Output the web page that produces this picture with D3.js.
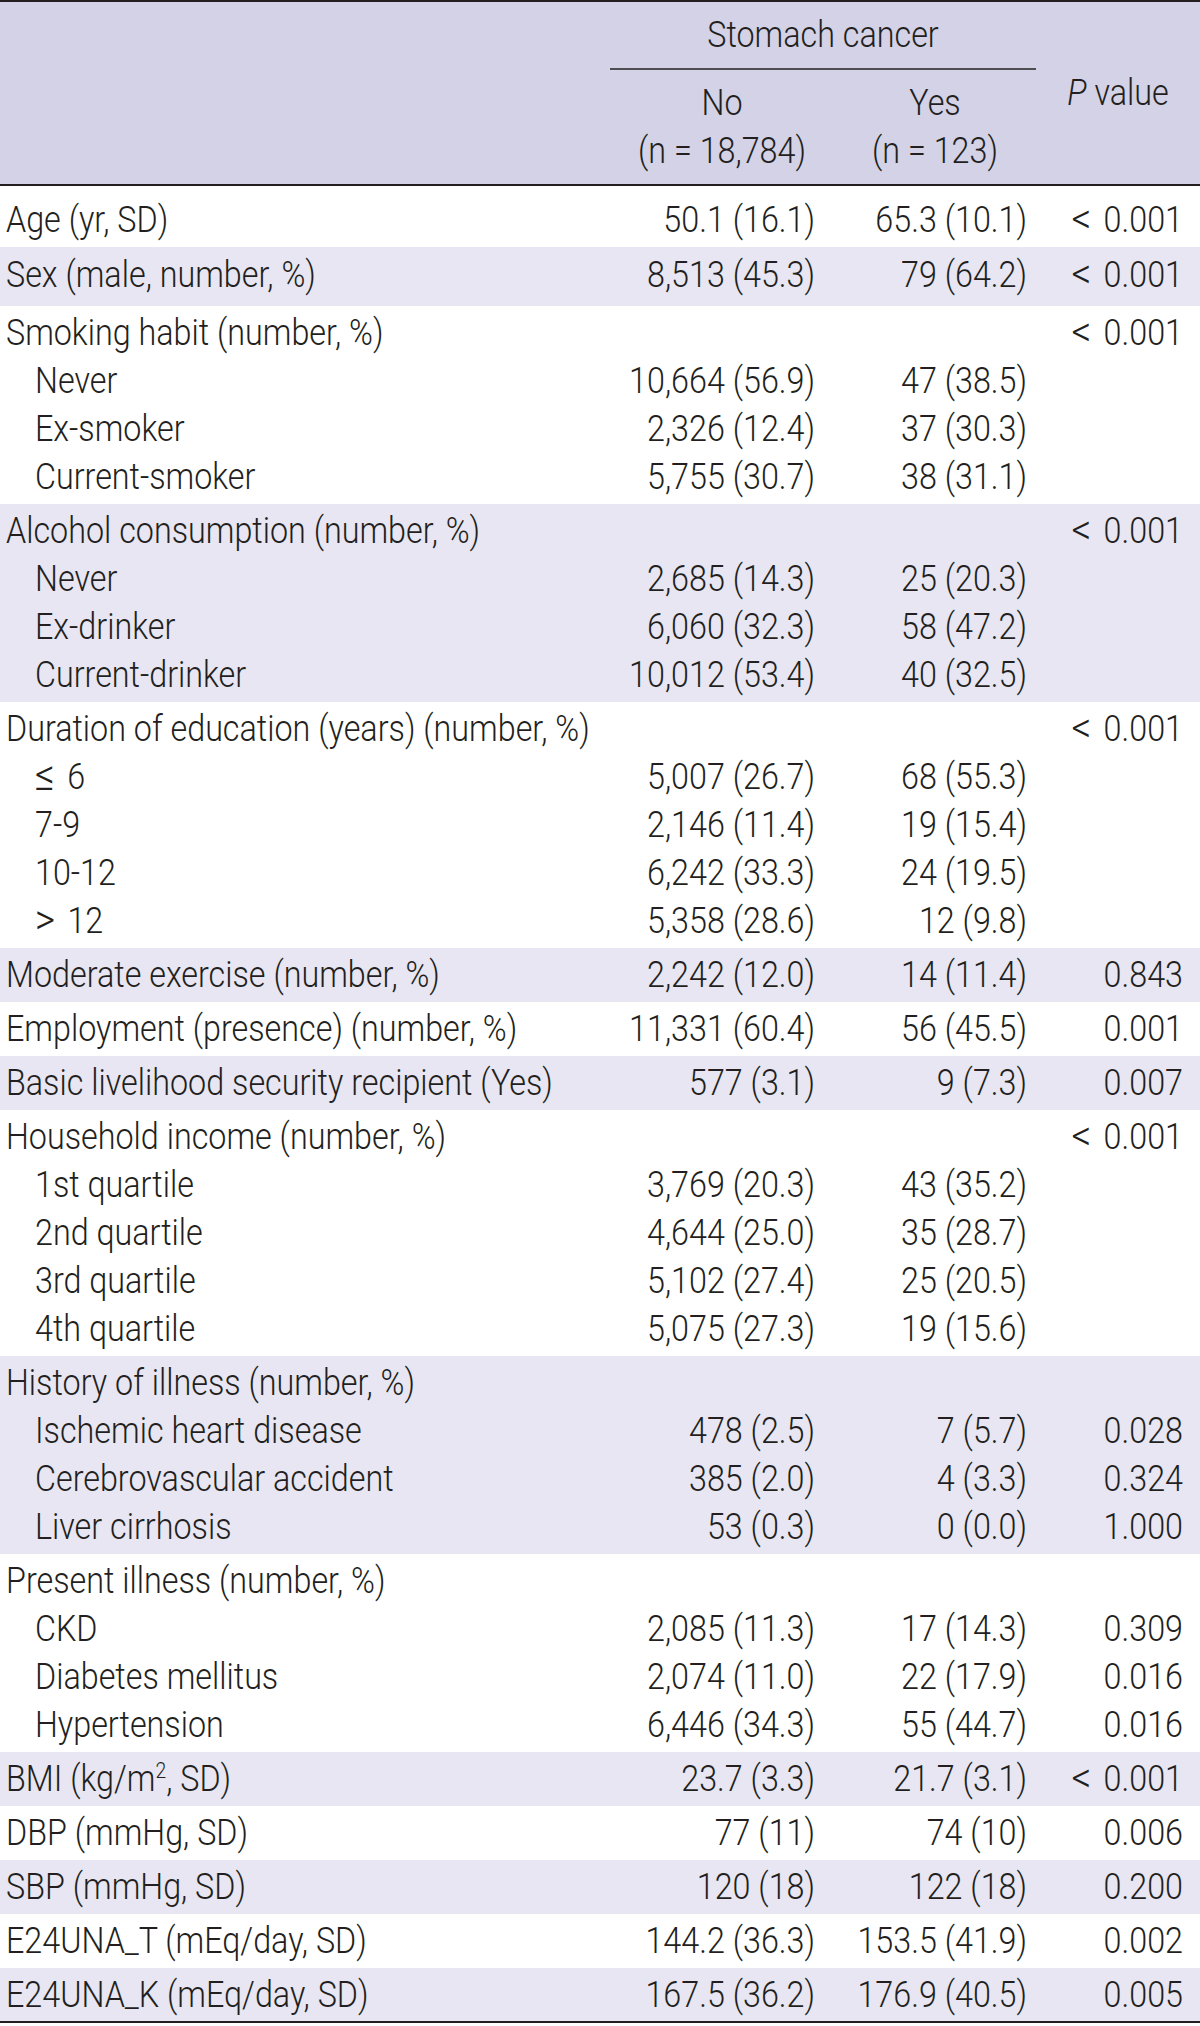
<!DOCTYPE html>
<html>
<head>
<meta charset="utf-8">
<script src="https://cdn.jsdelivr.net/npm/d3@7"></script>
<style>
  html, body { margin: 0; padding: 0; background: #fff; }
  svg { display: block; }
  text { font-family: Roboto, "Liberation Sans", sans-serif; font-weight: 300; fill: #231f20; }
</style>
</head>
<body>
<svg id="chart" width="1200" height="2026"></svg>
<script>
// ---------- data ----------
const groupSizes = [1, 1, 4, 4, 5, 1, 1, 1, 5, 4, 4, 1, 1, 1, 1, 1];

const rowLabels = [
  "Age (yr, SD)",
  "Sex (male, number, %)",
  "Smoking habit (number, %)", "Never", "Ex-smoker", "Current-smoker",
  "Alcohol consumption (number, %)", "Never", "Ex-drinker", "Current-drinker",
  "Duration of education (years) (number, %)", "\u2264 6", "7-9", "10-12", "> 12",
  "Moderate exercise (number, %)",
  "Employment (presence) (number, %)",
  "Basic livelihood security recipient (Yes)",
  "Household income (number, %)", "1st quartile", "2nd quartile", "3rd quartile", "4th quartile",
  "History of illness (number, %)", "Ischemic heart disease", "Cerebrovascular accident", "Liver cirrhosis",
  "Present illness (number, %)", "CKD", "Diabetes mellitus", "Hypertension",
  "BMI (kg/m2, SD)",
  "DBP (mmHg, SD)",
  "SBP (mmHg, SD)",
  "E24UNA_T (mEq/day, SD)",
  "E24UNA_K (mEq/day, SD)"
];

const rowIndented = [
  0,
  0,
  0, 1, 1, 1,
  0, 1, 1, 1,
  0, 1, 1, 1, 1,
  0,
  0,
  0,
  0, 1, 1, 1, 1,
  0, 1, 1, 1,
  0, 1, 1, 1,
  0, 0, 0, 0, 0
];

const noValues = [
  "50.1 (16.1)",
  "8,513 (45.3)",
  "", "10,664 (56.9)", "2,326 (12.4)", "5,755 (30.7)",
  "", "2,685 (14.3)", "6,060 (32.3)", "10,012 (53.4)",
  "", "5,007 (26.7)", "2,146 (11.4)", "6,242 (33.3)", "5,358 (28.6)",
  "2,242 (12.0)",
  "11,331 (60.4)",
  "577 (3.1)",
  "", "3,769 (20.3)", "4,644 (25.0)", "5,102 (27.4)", "5,075 (27.3)",
  "", "478 (2.5)", "385 (2.0)", "53 (0.3)",
  "", "2,085 (11.3)", "2,074 (11.0)", "6,446 (34.3)",
  "23.7 (3.3)",
  "77 (11)",
  "120 (18)",
  "144.2 (36.3)",
  "167.5 (36.2)"
];

const yesValues = [
  "65.3 (10.1)",
  "79 (64.2)",
  "", "47 (38.5)", "37 (30.3)", "38 (31.1)",
  "", "25 (20.3)", "58 (47.2)", "40 (32.5)",
  "", "68 (55.3)", "19 (15.4)", "24 (19.5)", "12 (9.8)",
  "14 (11.4)",
  "56 (45.5)",
  "9 (7.3)",
  "", "43 (35.2)", "35 (28.7)", "25 (20.5)", "19 (15.6)",
  "", "7 (5.7)", "4 (3.3)", "0 (0.0)",
  "", "17 (14.3)", "22 (17.9)", "55 (44.7)",
  "21.7 (3.1)",
  "74 (10)",
  "122 (18)",
  "153.5 (41.9)",
  "176.9 (40.5)"
];

const pValues = [
  "< 0.001",
  "< 0.001",
  "< 0.001", "", "", "",
  "< 0.001", "", "", "",
  "< 0.001", "", "", "", "",
  "0.843",
  "0.001",
  "0.007",
  "< 0.001", "", "", "", "",
  "", "0.028", "0.324", "1.000",
  "", "0.309", "0.016", "0.016",
  "< 0.001",
  "0.006",
  "0.200",
  "0.002",
  "0.005"
];

const spannerLabel = "Stomach cancer";
const columnHeads = ["No", "Yes"];
const columnCounts = ["(n = 18,784)", "(n = 123)"];

// ---------- layout ----------
const W = 1200, FONT = 36;
const svg = d3.select("#chart");
const HEADER_BOTTOM = 185, LINE = 48, PAD = 6;
const extraTop = [8, 1], extraBottom = [0, 4];

// calibrate horizontal compression so the font matches the condensed face
const probe = svg.append("text").style("font-size", FONT + "px")
  .text("Duration of education (years) (number, %)");
const probeW = probe.node().getComputedTextLength();
probe.remove();
const KX = 584 / probeW;

// line index -> y offset via scale
const lineScale = d3.scaleLinear().domain([0, 1]).range([0, LINE]);

// compute groups
const groups = [];
let yCursor = HEADER_BOTTOM, rowIdx = 0;
groupSizes.forEach((n, g) => {
  const et = extraTop[g] || 0, eb = extraBottom[g] || 0;
  const h = et + PAD + lineScale(n) + eb;
  const rows = d3.range(n).map(i => rowIdx + i);
  groups.push({ g, y0: yCursor, h, rows, baseTop: yCursor + et + PAD / 2 });
  yCursor += h;
  rowIdx += n;
});
const tableBottom = yCursor;

const xCol = d3.scaleOrdinal()
  .domain(["label", "indent", "no", "yes", "p"])
  .range([6, 35, 815, 1027, 1183]);

// header background
svg.append("rect").attr("x", 0).attr("y", 0).attr("width", W).attr("height", HEADER_BOTTOM)
  .attr("fill", "#d3d2e6");

// row bands
svg.append("g").selectAll("rect").data(groups.filter(d => d.g % 2 === 1)).join("rect")
  .attr("x", 0).attr("y", d => d.y0).attr("width", W).attr("height", d => d.h)
  .attr("fill", "#e7e6f2");

// rules
const rule = (x1, x2, y, w) => svg.append("line").attr("x1", x1).attr("x2", x2)
  .attr("y1", y).attr("y2", y).attr("stroke", "#231f20").attr("stroke-width", w);
rule(0, W, 1, 2);
rule(0, W, HEADER_BOTTOM, 2);
rule(610, 1036, 69, 1.6);
rule(0, W, tableBottom, 2);

const MATH = "<>\u2264";
function addText(sel, x, y, anchor, str) {
  const t = sel.append("text")
    .attr("transform", `translate(${x},${y}) scale(${KX},1)`)
    .attr("text-anchor", anchor)
    .style("font-size", FONT + "px");
  if (str.length > 2 && MATH.indexOf(str[0]) >= 0 && str[1] === " ") {
    // the original face draws comparison signs larger and wider
    t.append("tspan").style("font-size", (FONT * 1.2) + "px").attr("dy", 1).text(str[0]);
    t.append("tspan").attr("dx", 5).attr("dy", -1).text(str.slice(1));
  } else {
    t.text(str);
  }
  return t;
}

// header texts
const hdr = svg.append("g");
addText(hdr, 823, 47, "middle", spannerLabel);
const headCenters = [722, 935];
columnHeads.forEach((t, i) => addText(hdr, headCenters[i], 115, "middle", t));
columnCounts.forEach((t, i) => addText(hdr, headCenters[i], 163, "middle", t));
const pv = hdr.append("text")
  .attr("transform", `translate(1118,105) scale(${KX},1)`)
  .attr("text-anchor", "middle").style("font-size", FONT + "px");
pv.append("tspan").style("font-style", "italic").text("P");
pv.append("tspan").text(" value");

// body rows
const body = svg.append("g");
groups.forEach(gr => {
  gr.rows.forEach((r, i) => {
    const y = gr.baseTop + LINE * 0.75 + lineScale(i);
    const lx = rowIndented[r] ? xCol("indent") : xCol("label");
    const lab = rowLabels[r];
    if (lab.indexOf("m2") >= 0) {
      const t = body.append("text")
        .attr("transform", `translate(${lx},${y}) scale(${KX},1)`)
        .style("font-size", FONT + "px");
      const parts = lab.split("m2");
      t.append("tspan").text(parts[0] + "m");
      t.append("tspan").attr("dy", -13).style("font-size", (FONT * 0.6) + "px").text("2");
      t.append("tspan").attr("dy", 13).text(parts[1]);
    } else {
      addText(body, lx, y, "start", lab);
    }
    if (noValues[r]) addText(body, xCol("no"), y, "end", noValues[r]);
    if (yesValues[r]) addText(body, xCol("yes"), y, "end", yesValues[r]);
    if (pValues[r]) addText(body, xCol("p"), y, "end", pValues[r]);
  });
});
</script>
</body>
</html>
